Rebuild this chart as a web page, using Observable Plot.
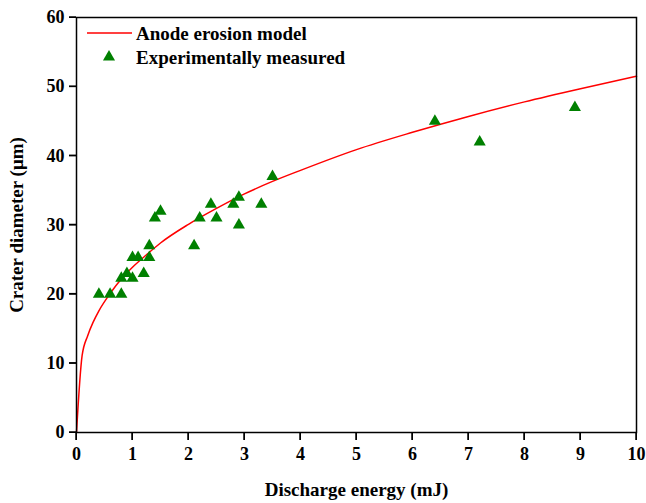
<!DOCTYPE html>
<html>
<head>
<meta charset="utf-8">
<script src="https://cdn.jsdelivr.net/npm/d3@7"></script>
<script src="https://cdn.jsdelivr.net/npm/@observablehq/plot@0.6"></script>
<style>
  html, body { margin: 0; padding: 0; background: #fff; }
  #chart { width: 646px; height: 503px; }
</style>
</head>
<body>
<div id="chart"></div>
<script>
// Model curve
const modelEnergy = [0, 0.1, 0.2, 0.3, 0.4, 0.6, 0.8, 1, 1.25, 1.5, 2, 2.5, 3, 3.5, 4, 5, 6, 7, 8, 9, 10];
const modelDiameter = [0, 11.1, 14.0, 16.0, 17.6, 20.1, 22.2, 23.9, 25.7, 27.4, 30.1, 32.4, 34.5, 36.3, 37.9, 40.9, 43.4, 45.7, 47.8, 49.7, 51.5];

// Experimentally measured points
const expEnergy = [0.4, 0.6, 0.8, 0.8, 0.9, 1.0, 1.2, 1.0, 1.1, 1.3, 1.3, 1.4, 1.5, 2.1, 2.2, 2.4, 2.5, 2.8, 2.9, 2.9, 3.3, 3.5, 6.4, 7.2, 8.9];
const expDiameter = [20, 20, 20, 22.3, 23, 22.3, 23, 25.3, 25.3, 25.3, 27, 31, 32, 27, 31, 33, 31, 33, 34, 30, 33, 37, 45, 42, 47];

const xTicks = [0, 1, 2, 3, 4, 5, 6, 7, 8, 9, 10];
const yTicks = [0, 10, 20, 30, 40, 50, 60];
const legendLabels = ["Anode erosion model", "Experimentally measured"];
const xLabel = "Discharge energy (mJ)";
const yLabel = "Crater diameter (\u03bcm)";

const model = modelEnergy.map((e, i) => ({e, d: modelDiameter[i]}));
const exp = expEnergy.map((e, i) => ({e, d: expDiameter[i]}));

const W = 646, H = 503;
const mL = 76, mT = 17, mR = 10, mB = 71;
const font = "'Liberation Serif', 'Times New Roman', serif";

const plot = Plot.plot({
  width: W,
  height: H,
  marginLeft: mL,
  marginRight: mR,
  marginTop: mT,
  marginBottom: mB,
  style: {fontFamily: font, fontWeight: "bold", fontSize: "18px"},
  x: {domain: [0, 10]},
  y: {domain: [0, 60]},
  marks: [
    Plot.line(model, {x: "e", y: "d", stroke: "#ff0000", strokeWidth: 1.5, curve: "monotone-x"}),
    Plot.dot(exp, {x: "e", y: "d", symbol: "triangle", r: 4.5, fill: "#008000", stroke: "none"}),
    Plot.axisX({ticks: xTicks, tickSize: 8, tickPadding: 7, fontSize: 18, fontWeight: "bold", label: null}),
    Plot.axisX({ticks: [], label: xLabel, labelAnchor: "center", labelArrow: "none", labelOffset: 63,
      fontSize: 19, fontWeight: "bold"}),
    Plot.axisY({ticks: yTicks, tickSize: 7, tickPadding: 5, fontSize: 18, fontWeight: "bold", label: null}),
    Plot.axisY({ticks: [], label: yLabel, labelAnchor: "center", labelArrow: "none", labelOffset: 67,
      fontSize: 19, fontWeight: "bold"}),
    Plot.frame({stroke: "#000", strokeWidth: 1.5})
  ]
});

document.getElementById("chart").appendChild(plot);

const svg = d3.select(plot);

// tick marks as thin filled rectangles, placed with Plot's own scales
let xPos, yPos;
try {
  const xs = plot.scale("x"), ys = plot.scale("y");
  xPos = v => xs.apply(v);
  yPos = v => ys.apply(v);
  if (!isFinite(xPos(1)) || !isFinite(yPos(10))) throw new Error("scale");
} catch (e) {
  const xs = d3.scaleLinear([0, 10], [mL, W - mR]);
  const ys = d3.scaleLinear([0, 60], [H - mB, mT]);
  xPos = v => xs(v);
  yPos = v => ys(v);
}
const bottom = H - mB;
const tg = svg.append("g").attr("fill", "#000");
xTicks.forEach(v => {
  const px = xPos(v);
  tg.append("rect").attr("x", px - 0.75).attr("y", bottom).attr("width", 1.5).attr("height", 8);
});
yTicks.forEach(v => {
  const py = yPos(v);
  tg.append("rect").attr("x", mL - 7).attr("y", py - 0.75).attr("width", 7).attr("height", 1.5);
});

// legend
const g = svg.append("g")
  .attr("transform", `translate(${mL},${mT})`)
  .style("font-family", font).style("font-weight", "bold").style("font-size", "19px")
  .attr("text-anchor", "start");
g.append("line").attr("x1", 11).attr("x2", 56).attr("y1", 16).attr("y2", 16)
  .attr("stroke", "#ff0000").attr("stroke-width", 1.5);
g.append("text").attr("x", 60).attr("y", 16).attr("dy", "0.35em").attr("text-anchor", "start").text(legendLabels[0]);
g.append("path").attr("d", d3.symbol(d3.symbolTriangle, 4.5 * 4.5 * Math.PI)())
  .attr("transform", "translate(33,40)").attr("fill", "#008000");
g.append("text").attr("x", 60).attr("y", 40).attr("dy", "0.35em").attr("text-anchor", "start").text(legendLabels[1]);
</script>
</body>
</html>
